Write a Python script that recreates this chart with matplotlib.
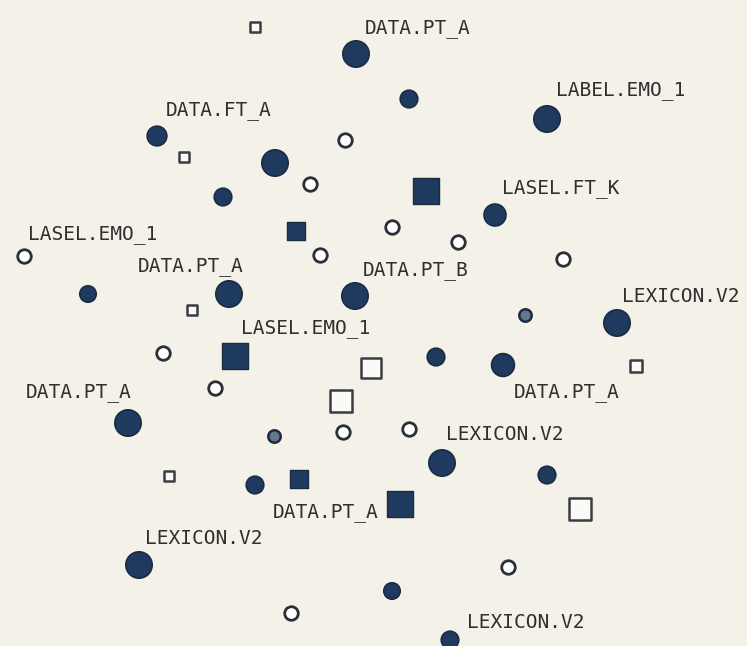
import matplotlib
matplotlib.use("Agg")
import matplotlib.pyplot as plt

# ---- data (positions in the chart's own 747 x 646 coordinate frame) ----
fill_x = [356, 409, 547, 157, 275, 223, 495, 229, 355, 88, 617, 436, 503, 128, 442, 547, 255, 139, 392, 450]
fill_y = [54, 99, 119, 136, 163, 197, 215, 294, 296, 294, 323, 357, 365, 423, 463, 475, 485, 565, 591, 640]
fill_s = [360, 160, 360, 200, 360, 160, 250, 360, 360, 140, 360, 160, 270, 360, 360, 160, 160, 360, 140, 160]

ring_x = [525, 274]
ring_y = [315, 436]

open_x = [345, 310, 24, 392, 458, 320, 563, 163, 215, 343, 409, 508, 291]
open_y = [140, 184, 256, 227, 242, 255, 259, 353, 388, 432, 429, 567, 613]

osq_x = [255, 184, 192, 169, 636, 371, 341, 580]
osq_y = [27, 157, 310, 476, 366, 368, 401, 509]
osq_s = [55, 55, 55, 55, 70, 210, 250, 230]

fsq_x = [426, 296, 235, 299, 400]
fsq_y = [191, 231, 356, 479, 504]
fsq_s = [330, 180, 330, 180, 330]

label_text = ["DATA.PT_A", "DATA.FT_A", "LABEL.EMO_1", "LASEL.FT_K", "LASEL.EMO_1",
              "DATA.PT_A", "DATA.PT_B", "LEXICON.V2", "LASEL.EMO_1", "DATA.PT_A",
              "DATA.PT_A", "LEXICON.V2", "DATA.PT_A", "LEXICON.V2", "LEXICON.V2"]
label_x = [365, 166, 556, 502, 28, 138, 363, 622, 241, 26, 514, 446, 273, 145, 467]
label_y = [28, 110, 90, 188, 235, 267, 270, 296, 329, 392, 393, 435, 512, 538, 622]

# ---- style ----
BG = "#f4f1e8"
NAVY = "#1f3a5f"
EDGE = "#1b2b42"
TXT = "#2f2f2f"

fig = plt.figure(figsize=(7.47, 6.46), dpi=100, facecolor=BG)
ax = fig.add_axes([0, 0, 1, 1])
ax.set_facecolor(BG)
ax.set_xlim(0, 747)
ax.set_ylim(646, 0)
ax.axis("off")

ax.scatter(fill_x, fill_y, s=fill_s, c=NAVY, edgecolors=EDGE, linewidths=1.2, zorder=3)
ax.scatter(ring_x, ring_y, s=80, c="#66778c", edgecolors=EDGE, linewidths=1.8, zorder=3)
ax.scatter(open_x, open_y, s=95, c="white", edgecolors="#2a2f38", linewidths=2.0, zorder=3)
ax.scatter(osq_x, osq_y, s=osq_s, marker="s", c="#fbfaf6", edgecolors="#3a3d44", linewidths=1.8, zorder=3)
ax.scatter(fsq_x, fsq_y, s=fsq_s, marker="s", c=NAVY, edgecolors=EDGE, linewidths=1.0, zorder=3)

for t, x, y in zip(label_text, label_x, label_y):
    ax.text(x, y, t, ha="left", va="center", fontsize=14, color=TXT,
            family="DejaVu Sans Mono", zorder=4)

fig.savefig("out.png", dpi=100, facecolor=BG)
